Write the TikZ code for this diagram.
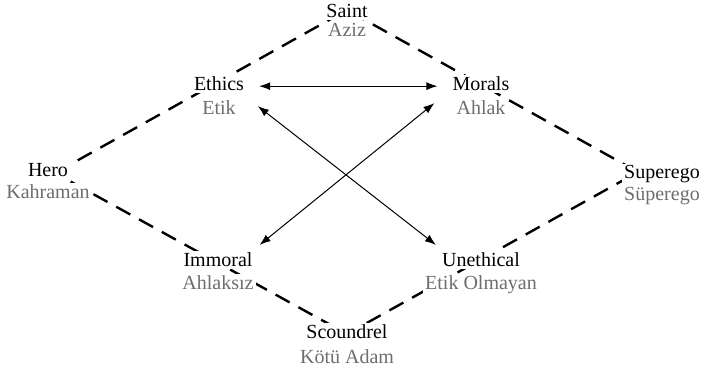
\documentclass[tikz,border=0pt]{standalone}
\usepackage{fontspec}
\setmainfont{Liberation Serif}
\usetikzlibrary{arrows.meta}
\definecolor{trgray}{HTML}{6E6E6E}

\begin{document}
\begin{tikzpicture}[x=1pt,y=-1pt,
    en/.style={anchor=base,fill=white,inner sep=2pt,font=\fontsize{20}{24}\selectfont},
    tr/.style={en,text=trgray},
    rim/.style={line width=2.4pt,dash pattern=on 16pt off 10pt},
    twoway/.style={{Latex[length=11pt,width=8pt]}-{Latex[length=11pt,width=8pt]},line width=1pt}]
    \useasboundingbox (0,0) rectangle (705,374);
    % corners of the dashed diamond
    \coordinate (L) at (55,173);
    \coordinate (T) at (347,10);
    \coordinate (R) at (638,172);
    \coordinate (B) at (347,334);
    \draw[rim] (L) -- (T) -- (R) -- (B) -- cycle;
    % english word on top, turkish one below it
    \foreach \nm/\x/\y/\en/\tr/\dy in {saint/347/18/Saint/Aziz/19,ethics/219/91/Ethics/Etik/24,
        morals/481/91/Morals/Ahlak/24,hero/48/177/Hero/Kahraman/22,superego/662/179/Superego/Süperego/22,
        immoral/218/267/Immoral/Ahlaksız/23,unethical/481/267/Unethical/Etik Olmayan/23,
        scoundrel/347/339/Scoundrel/Kötü Adam/24} {
        \node[en] (\nm) at (\x,\y) {\en};
        \node[tr] (\nm-tr) at (\x,\y+\dy) {\tr};}

    \draw[twoway,shorten <=13pt,shorten >=13pt] ([yshift=-2pt]ethics.east) -- ([yshift=-2pt]morals.west);
    \draw[twoway] ([xshift=20pt,yshift=2pt]ethics-tr.east) -- ([xshift=-4pt,yshift=6pt]unethical.north west);
    \draw[twoway] ([xshift=-20pt,yshift=5pt]morals-tr.west) -- ([xshift=5pt,yshift=6pt]immoral.north east);
\end{tikzpicture}
\end{document}
